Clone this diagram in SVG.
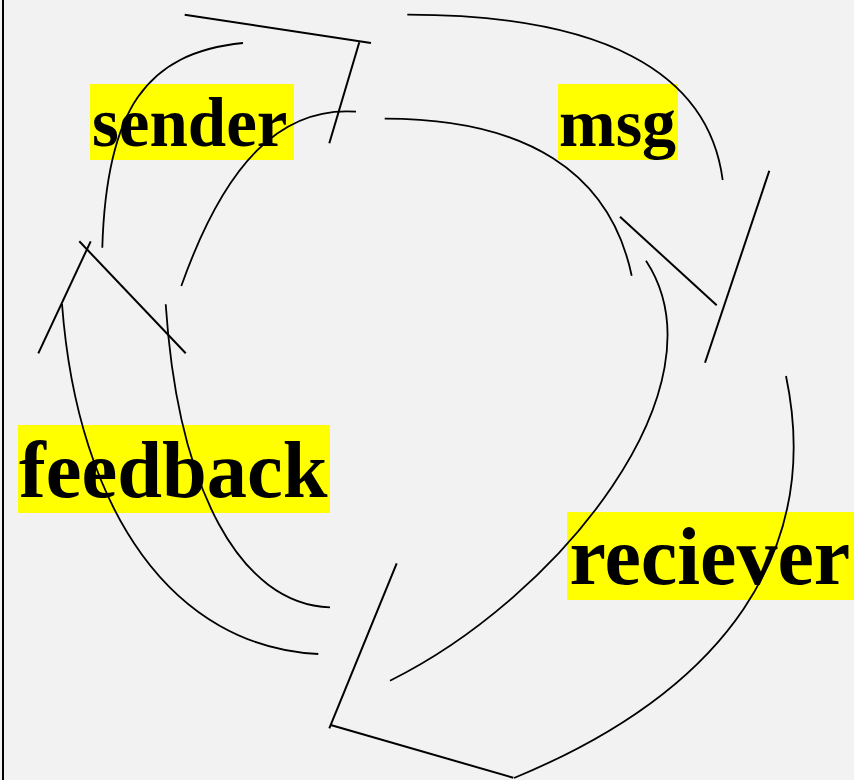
<svg xmlns="http://www.w3.org/2000/svg" width="854" height="780" viewBox="0 0 854 780">
  <style>
    .bg { fill: #f2f2f2; }
    .frame { stroke: #000; stroke-width: 2; fill: none; }
    .hl { fill: #ffff00; }
    .lbl { font-family: "Liberation Serif", "DejaVu Serif", serif; font-weight: bold; fill: #000; }
    .arc { fill: none; stroke: #000; stroke-width: 1.8; }
    .tip { fill: none; stroke: #000; stroke-width: 2; }
  </style>

  <rect class="bg" x="0" y="0" width="854" height="780"/>
  <line class="frame" x1="3" y1="0" x2="3" y2="780"/>

  <!-- labels -->
  <g id="sender">
    <rect class="hl" x="90" y="84" width="204" height="76"/>
    <text class="lbl" x="92" y="146" font-size="69">sender</text>
  </g>
  <g id="msg">
    <rect class="hl" x="558" y="84" width="120" height="76"/>
    <text class="lbl" x="559" y="146" font-size="68">msg</text>
  </g>
  <g id="feedback">
    <rect class="hl" x="18" y="425" width="312" height="88"/>
    <text class="lbl" x="19" y="497" font-size="80.5">feedback</text>
  </g>
  <g id="reciever">
    <rect class="hl" x="567" y="512" width="287" height="88"/>
    <text class="lbl" x="569.5" y="584" font-size="82">reciever</text>
  </g>

  <!-- curved arrow outlines, drawn open -->
  <g id="connectors">
    <!-- sender -> msg -->
    <path class="arc" d="M243,43 C145.8,52.7 106.4,110 102.3,247.7"/>
    <path class="arc" d="M356,111.7 C281.2,106.5 225.3,162.2 181.3,286"/>
    <line class="tip" x1="184.7" y1="14.7" x2="371" y2="43"/>
    <line class="tip" x1="359.3" y1="42.3" x2="329.3" y2="143.3"/>

    <!-- msg -> reciever -->
    <path class="arc" d="M407.3,14.7 C601.3,14.7 708.5,70.9 722.7,180"/>
    <path class="arc" d="M384.7,118.7 C525.9,118.7 609.9,172.1 631.7,275.7"/>
    <line class="tip" x1="620" y1="216.7" x2="716.7" y2="305.3"/>
    <line class="tip" x1="769.3" y1="170.7" x2="705" y2="362.7"/>

    <!-- reciever -> feedback -->
    <path class="arc" d="M786,376 C822.4,549.2 727.2,689.9 514,778"/>
    <path class="arc" d="M646,260.7 C728.5,386 559,597 390,680.7"/>
    <line class="tip" x1="396.7" y1="563.3" x2="329.3" y2="728.3"/>
    <line class="tip" x1="330.7" y1="725" x2="513.3" y2="777.7"/>

    <!-- feedback -> sender -->
    <path class="arc" d="M62,304 C77.9,513 174,646.8 318.3,654"/>
    <path class="arc" d="M165.7,304.3 C177.9,489.1 240.3,604.3 330,607.3"/>
    <line class="tip" x1="38.3" y1="353.3" x2="90.7" y2="241.3"/>
    <line class="tip" x1="79.3" y1="241.3" x2="185.7" y2="353.3"/>
  </g>
</svg>
